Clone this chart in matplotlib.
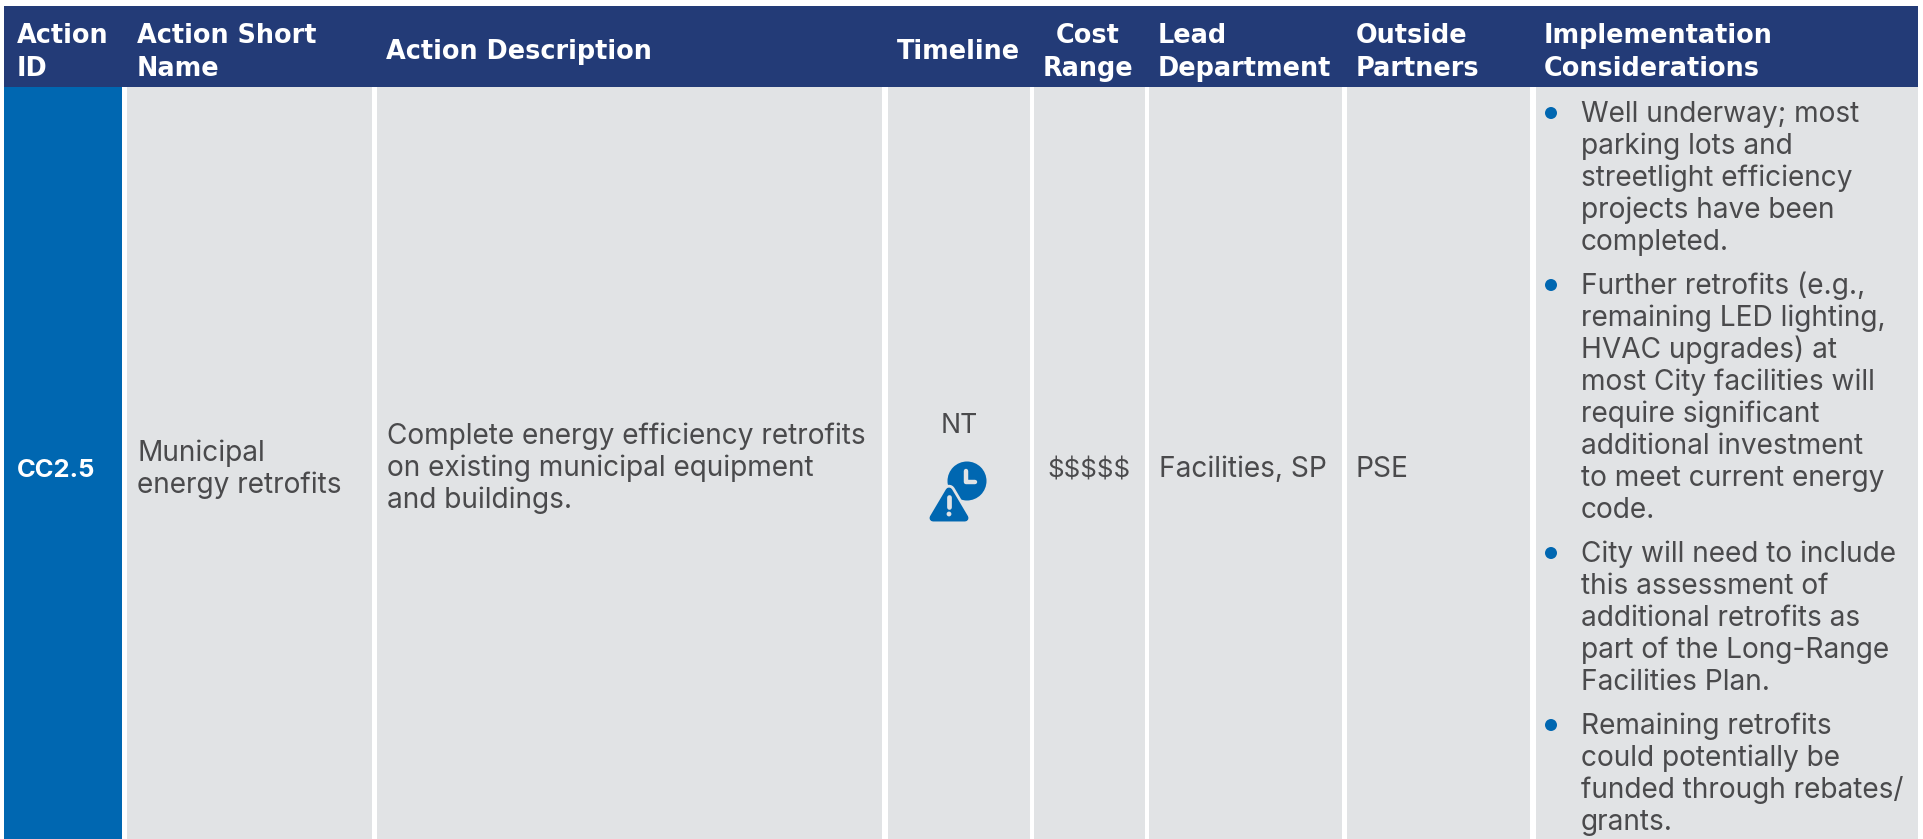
"""
Action table CC2.5, drawn in pixel coordinates
"""
import matplotlib
matplotlib.use('Agg')
import matplotlib.pyplot as plt
from matplotlib.patches import Rectangle, Circle, Polygon

W, H = 1923, 839
font = 'Inter'
head_font = 'DejaVu Sans'
navy = '#233b77'
blue = '#0067b1'
grey = '#e1e3e5'
ink = '#4a4a4c'

# Cell edges
col_left = [4, 127, 377, 888, 1034, 1149, 1347, 1536]
col_right = [122, 372, 882, 1030, 1145, 1342, 1530, 1918]

# Header text
head_lines = [['Action', 'ID'], ['Action Short', 'Name'], ['Action Description'],
              ['Timeline'], ['Cost', 'Range'], ['Lead', 'Department'],
              ['Outside', 'Partners'], ['Implementation', 'Considerations']]
head_x = [17, 137, 386, 958, 1088, 1158, 1356, 1544]
head_ha = ['left', 'left', 'left', 'center', 'center', 'left', 'left', 'left']

# Row text
action_id = 'CC2.5'
short_name = ['Municipal', 'energy retrofits']
description = ['Complete energy efficiency retrofits',
               'on existing municipal equipment',
               'and buildings.']
timeline = 'NT'
cost = '$$$$$'
lead = 'Facilities, SP'
partners = 'PSE'
considerations = [
    ['Well underway; most', 'parking lots and', 'streetlight efficiency',
     'projects have been', 'completed.'],
    ['Further retrofits (e.g.,', 'remaining LED lighting,', 'HVAC upgrades) at',
     'most City facilities will', 'require significant', 'additional investment',
     'to meet current energy', 'code.'],
    ['City will need to include', 'this assessment of', 'additional retrofits as',
     'part of the Long-Range', 'Facilities Plan.'],
    ['Remaining retrofits', 'could potentially be', 'funded through rebates/',
     'grants.'],
]

fig = plt.figure(figsize=(W / 100, H / 100), dpi=100)
ax = fig.add_axes([0, 0, 1, 1])
ax.set_xlim(0, W)
ax.set_ylim(H, 0)
ax.axis('off')

# Backgrounds
ax.add_patch(Rectangle((4, 6), 1914, 81, fc=navy, ec='none'))
for i, (l, r) in enumerate(zip(col_left, col_right)):
    ax.add_patch(Rectangle((l, 87), r - l, H - 87, fc=blue if i == 0 else grey, ec='none'))


def put(x, y, s, size=20.2, color=ink, weight='normal', ha='left', family=font):
    ax.text(x, y, s, fontsize=size, color=color, fontweight=weight, ha=ha, va='baseline',
            family=family)


# Header
for lines, x, ha in zip(head_lines, head_x, head_ha):
    ys = [43, 76] if len(lines) == 2 else [59]
    for s, y in zip(lines, ys):
        put(x, y, s, size=18.4, color='white', weight='bold', ha=ha, family=head_font)

# Single-row columns
put(17, 477, action_id, size=18.4, color='white', weight='bold')
for s, y in zip(short_name, [461, 493]):
    put(137, y, s)
for s, y in zip(description, [444, 476, 508]):
    put(387, y, s)
put(959, 433, timeline, size=19.2, ha='center')
put(1089, 477, cost, size=18.6, ha='center')
put(1159, 477, lead)
put(1356, 477, partners)

# Bulleted list
y = 122
for block in considerations:
    ax.add_patch(Circle((1551, y - 9), 6, fc=blue, ec='none'))
    for s in block:
        put(1581, y, s)
        y += 32
    y += 12

# Timeline icon: clock behind a warning triangle
tri = [(949, 491), (933, 518), (965, 518)]
ax.add_patch(Circle((967, 481), 19.5, fc=blue, ec='none'))
ax.add_patch(Polygon(tri, closed=True, fc=grey, ec=grey, lw=9, joinstyle='round'))
ax.add_patch(Polygon(tri, closed=True, fc=blue, ec=blue, lw=5, joinstyle='round'))
ax.plot([966, 966, 975], [471, 482, 482], color=grey, lw=3.2, solid_capstyle='round',
        solid_joinstyle='round')
ax.plot([949, 949], [497, 507], color=grey, lw=3.4, solid_capstyle='round')
ax.add_patch(Circle((949, 514), 2.4, fc=grey, ec='none'))

fig.savefig('out.png', dpi=100)
